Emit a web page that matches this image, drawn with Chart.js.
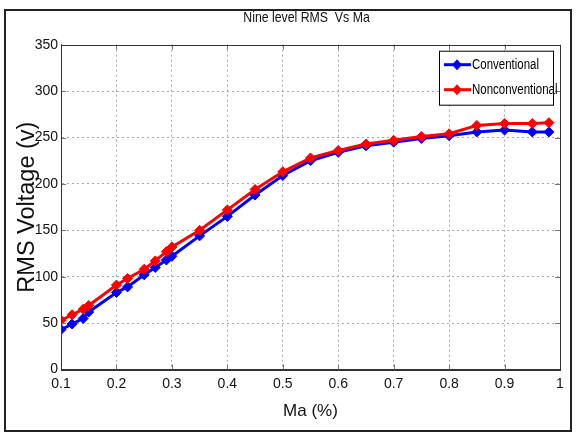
<!DOCTYPE html>
<html>
<head>
<meta charset="utf-8">
<script src="https://cdn.jsdelivr.net/npm/chart.js@4/dist/chart.umd.min.js"></script>
<style>
  html, body { margin: 0; padding: 0; background: #fff; }
  #wrap { width: 577px; height: 432px; position: relative; }
</style>
</head>
<body>
<div id="wrap"><canvas id="c" width="577" height="432"></canvas></div>
<script>
// ---- data ----
const maValues = [0.1, 0.12, 0.14, 0.15, 0.2, 0.22, 0.25, 0.27, 0.29, 0.3, 0.35, 0.4, 0.45, 0.5, 0.55, 0.6, 0.65, 0.7, 0.75, 0.8, 0.85, 0.9, 0.95, 0.98];
const conventional = [43, 49, 55, 62, 83, 89, 102, 110, 118, 122, 144, 165, 188, 209, 225, 234, 241, 245, 249, 252, 256, 258, 256, 256];
const nonconventional = [53, 59, 65, 69, 91, 98, 108, 117, 127, 132, 150, 172, 194, 213, 228, 236, 243, 247, 251, 254, 263, 265, 265, 266];
const seriesNames = ['Conventional', 'Nonconventional'];
const titleText = 'Nine level RMS  Vs Ma';
const xTitle = 'Ma (%)';
const yTitle = 'RMS Voltage (v)';
const yTicks = [0, 50, 100, 150, 200, 250, 300, 350];
const xTicks = [0.1, 0.2, 0.3, 0.4, 0.5, 0.6, 0.7, 0.8, 0.9, 1];

const FONT = '"Liberation Sans", Arial, sans-serif';

function toPoints(xs, ys) { return xs.map((x, i) => ({ x: x, y: ys[i] })); }

const framePlugin = {
  id: 'frame',
  beforeDraw(chart) {
    const ctx = chart.ctx;
    ctx.save();
    ctx.fillStyle = '#fff';
    ctx.fillRect(0, 0, chart.width, chart.height);
    ctx.strokeStyle = '#222';
    ctx.lineWidth = 2;
    ctx.strokeRect(5, 10, 566, 421);
    ctx.restore();
  },
  afterDatasetsDraw(chart) {
    const ctx = chart.ctx;
    const a = chart.chartArea;
    const xs = chart.scales.x, ys = chart.scales.y;
    ctx.save();
    ctx.strokeStyle = '#777';
    ctx.lineWidth = 1;
    ctx.beginPath();
    xTicks.forEach(v => {
      const px = Math.round(xs.getPixelForValue(v)) + 0.5;
      ctx.moveTo(px, a.bottom); ctx.lineTo(px, a.bottom - 5);
      ctx.moveTo(px, a.top); ctx.lineTo(px, a.top + 5);
    });
    yTicks.forEach(v => {
      const py = Math.round(ys.getPixelForValue(v)) + 0.5;
      ctx.moveTo(a.left, py); ctx.lineTo(a.left + 5, py);
      ctx.moveTo(a.right, py); ctx.lineTo(a.right - 5, py);
    });
    ctx.stroke();
    ctx.strokeStyle = '#333';
    ctx.lineWidth = 1;
    ctx.strokeRect(Math.round(a.left) + 0.5, Math.round(a.top) + 0.5, Math.round(a.right - a.left), Math.round(a.bottom - a.top));
    ctx.restore();
  },
  afterDraw(chart) {
    const ctx = chart.ctx;
    const a = chart.chartArea;
    // title, centred over the plot area
    ctx.save();
    ctx.translate((a.left + a.right) / 2 - 4, 18);
    ctx.scale(0.82, 1);
    ctx.fillStyle = '#111';
    ctx.font = '15px ' + FONT;
    ctx.textAlign = 'center';
    ctx.textBaseline = 'middle';
    ctx.fillText(titleText, 0, 0);
    ctx.restore();
    // legend
    const bw = 114, bh = 54;
    const bx = a.right - 7 - bw, by = a.top + 6;
    ctx.save();
    ctx.fillStyle = '#fff';
    ctx.fillRect(bx, by, bw, bh);
    ctx.strokeStyle = '#000';
    ctx.lineWidth = 1;
    ctx.strokeRect(bx + 0.5, by + 0.5, bw, bh);
    [0, 1].forEach((di, k) => {
      const ds = chart.data.datasets[di];
      const y = by + 14 + k * 25;
      ctx.strokeStyle = ds.borderColor;
      ctx.lineWidth = 3;
      ctx.beginPath();
      ctx.moveTo(bx + 5, y); ctx.lineTo(bx + 32, y);
      ctx.stroke();
      ctx.fillStyle = ds.borderColor;
      ctx.beginPath();
      ctx.moveTo(bx + 18, y - 5.5); ctx.lineTo(bx + 23, y); ctx.lineTo(bx + 18, y + 5.5); ctx.lineTo(bx + 13, y);
      ctx.closePath();
      ctx.fill();
      ctx.save();
      ctx.translate(bx + 33, y);
      ctx.scale(0.82, 1);
      ctx.fillStyle = '#000';
      ctx.font = '14px ' + FONT;
      ctx.textBaseline = 'middle';
      ctx.textAlign = 'left';
      ctx.fillText(ds.label, 0, 0);
      ctx.restore();
    });
    ctx.restore();
  }
};

new Chart(document.getElementById('c'), {
  type: 'line',
  data: {
    datasets: [
      {
        label: seriesNames[0],
        data: toPoints(maValues, conventional),
        borderColor: '#0000ff',
        backgroundColor: '#0000ff',
        borderWidth: 3,
        pointStyle: 'rectRot',
        pointRadius: 5,
        pointBorderWidth: 1,
        order: 1,
        tension: 0
      },
      {
        label: seriesNames[1],
        data: toPoints(maValues, nonconventional),
        borderColor: '#ff0000',
        backgroundColor: '#ff0000',
        borderWidth: 3,
        pointStyle: 'rectRot',
        pointRadius: 5,
        pointBorderWidth: 1,
        order: 0,
        tension: 0
      }
    ]
  },
  options: {
    responsive: false,
    animation: false,
    events: [],
    layout: { padding: { left: 0, right: 17, top: 44.7, bottom: 0 } },
    plugins: {
      legend: { display: false },
      tooltip: { enabled: false },
      title: { display: false }
    },
    scales: {
      x: {
        type: 'linear',
        min: 0.1,
        max: 1,
        afterFit(s) { s.height = 62.5; },
        afterBuildTicks(s) { s.ticks = xTicks.map(v => ({ value: v })); },
        ticks: {
          color: '#111',
          padding: 6,
          maxRotation: 0,
          autoSkip: false,
          font: { family: FONT, size: 14 },
          callback: v => String(Math.round(v * 10) / 10)
        },
        grid: {
          color: c => (c.index === 0 || c.index === xTicks.length - 1) ? 'rgba(0,0,0,0)' : '#a8a8a8',
          lineWidth: 1,
          drawTicks: false
        },
        border: { display: true, color: '#333', dash: [2, 3] },
        title: {
          display: true,
          text: xTitle,
          color: '#111',
          font: { family: FONT, size: 17 },
          padding: { top: 0, bottom: 10 }
        }
      },
      y: {
        type: 'linear',
        min: 0,
        max: 350,
        afterFit(s) { s.width = 61; },
        afterBuildTicks(s) { s.ticks = yTicks.map(v => ({ value: v })); },
        ticks: {
          color: '#111',
          padding: 3,
          font: { family: FONT, size: 14 },
          callback: v => String(v)
        },
        grid: {
          color: c => (c.index === 0 || c.index === yTicks.length - 1) ? 'rgba(0,0,0,0)' : '#a8a8a8',
          lineWidth: 1,
          drawTicks: false
        },
        border: { display: true, color: '#333', dash: [2, 3] },
        title: {
          display: true,
          text: yTitle,
          color: '#111',
          font: { family: FONT, size: 23.5 },
          padding: { top: 13, bottom: 0 }
        }
      }
    }
  },
  plugins: [framePlugin]
});
</script>
</body>
</html>
